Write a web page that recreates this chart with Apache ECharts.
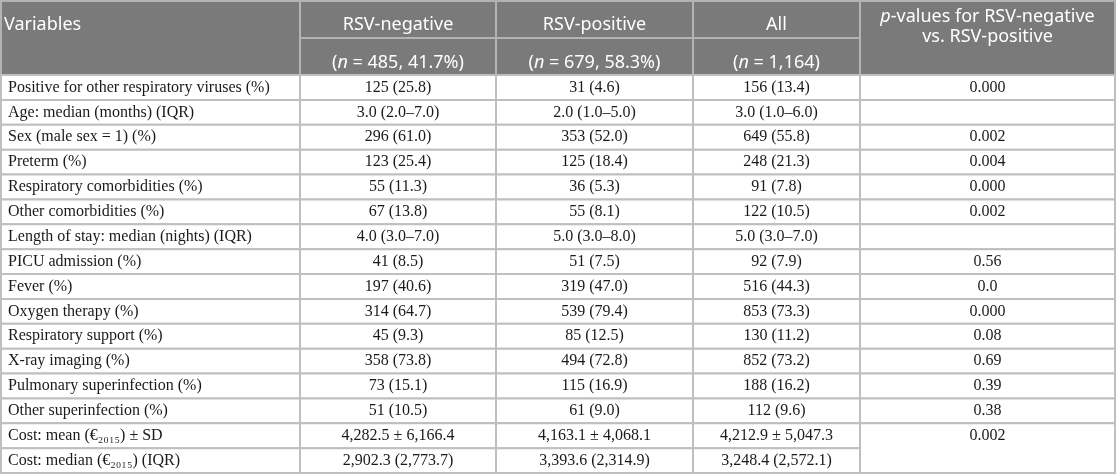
<!DOCTYPE html>
<html>
<head>
<meta charset="utf-8">
<style>
  html, body { margin: 0; padding: 0; background: #fff; }
  #myChart { width: 1116px; height: 474px; }
</style>
<script src="https://cdn.jsdelivr.net/npm/echarts@6/dist/echarts.min.js"></script>
</head>
<body>
<div id="myChart"></div>
<script>
// ---- table content ----
const headers = [
  "Variables",
  "RSV-negative",
  "RSV-positive",
  "All",
  "{i|p}-values for RSV-negative\nvs. RSV-positive",
];
const groupSizes = ["({i|n} = 485, 41.7%)", "({i|n} = 679, 58.3%)", "({i|n} = 1,164)"];

const variables = [
  "Positive for other respiratory viruses (%)",
  "Age: median (months) (IQR)",
  "Sex (male sex = 1) (%)",
  "Preterm (%)",
  "Respiratory comorbidities (%)",
  "Other comorbidities (%)",
  "Length of stay: median (nights) (IQR)",
  "PICU admission (%)",
  "Fever (%)",
  "Oxygen therapy (%)",
  "Respiratory support (%)",
  "X-ray imaging (%)",
  "Pulmonary superinfection (%)",
  "Other superinfection (%)",
  "Cost: mean (€₂₀₁₅) ± SD",
  "Cost: median (€₂₀₁₅) (IQR)",
];
const rsvNegative = [
  "125 (25.8)", "3.0 (2.0–7.0)", "296 (61.0)", "123 (25.4)", "55 (11.3)",
  "67 (13.8)", "4.0 (3.0–7.0)", "41 (8.5)", "197 (40.6)", "314 (64.7)",
  "45 (9.3)", "358 (73.8)", "73 (15.1)", "51 (10.5)",
  "4,282.5 ± 6,166.4", "2,902.3 (2,773.7)",
];
const rsvPositive = [
  "31 (4.6)", "2.0 (1.0–5.0)", "353 (52.0)", "125 (18.4)", "36 (5.3)",
  "55 (8.1)", "5.0 (3.0–8.0)", "51 (7.5)", "319 (47.0)", "539 (79.4)",
  "85 (12.5)", "494 (72.8)", "115 (16.9)", "61 (9.0)",
  "4,163.1 ± 4,068.1", "3,393.6 (2,314.9)",
];
const allPatients = [
  "156 (13.4)", "3.0 (1.0–6.0)", "649 (55.8)", "248 (21.3)", "91 (7.8)",
  "122 (10.5)", "5.0 (3.0–7.0)", "92 (7.9)", "516 (44.3)", "853 (73.3)",
  "130 (11.2)", "852 (73.2)", "188 (16.2)", "112 (9.6)",
  "4,212.9 ± 5,047.3", "3,248.4 (2,572.1)",
];
// null = merged into the cell above (the two cost rows share one p-value)
const pValues = [
  "0.000", "", "0.002", "0.004", "0.000", "0.002", "", "0.56", "0.0",
  "0.000", "0.08", "0.69", "0.39", "0.38", "0.002", null,
];

// ---- layout (page pixels) ----
const colEdges = [1, 300, 496, 693, 860, 1115];
const headerEdges = [1, 38, 75];
const ROW_H = 24.875;

const HEAD_BG = "#7a7a7a";
const HEAD_LINE = "#b3b3b3";
const BODY_LINE = "#bfbfbf";
const HEAD_FONT = "18px 'Noto Sans'";
const HEAD_FONT_I = "italic 18px 'Noto Sans'";
const BODY_FONT = "16px 'Liberation Serif'";

const rowTop = (i) => headerEdges[2] + i * ROW_H;

// build the list of cells: [x0, x1, y0, y1] + text info
const cells = [];
const addCell = (c0, c1, y0, y1, text, opt) => {
  cells.push(Object.assign({ box: [colEdges[c0], colEdges[c1], y0, y1], text: text }, opt));
};

addCell(0, 1, headerEdges[0], headerEdges[2], headers[0], { head: true, align: "left", ty: 24.5 });
for (let c = 1; c <= 3; c++) {
  addCell(c, c + 1, headerEdges[0], headerEdges[1], headers[c], { head: true, align: "center", ty: 24.5 });
  addCell(c, c + 1, headerEdges[1], headerEdges[2], groupSizes[c - 1], { head: true, align: "center", ty: 63 });
}
addCell(4, 5, headerEdges[0], headerEdges[2], headers[4], { head: true, align: "center", ty: 27 });

const columns = [variables, rsvNegative, rsvPositive, allPatients];
variables.forEach((v, i) => {
  const y0 = rowTop(i);
  const y1 = rowTop(i + 1);
  columns.forEach((col, c) => {
    addCell(c, c + 1, y0, y1, col[i], { align: c === 0 ? "left" : "center" });
  });
  if (pValues[i] === null) return;
  // merged cell if next row has no own p-value
  const span = pValues[i + 1] === null ? 2 : 1;
  addCell(4, 5, y0, rowTop(i + span), pValues[i], { align: "center", ty: (y0 + y1) / 2 });
});

function renderCell(params, api) {
  const cell = cells[params.dataIndex];
  const p0 = api.coord([api.value(0), api.value(2)]);
  const p1 = api.coord([api.value(1), api.value(3)]);
  const head = !!cell.head;
  const tx = cell.align === "left" ? p0[0] + (head ? 3 : 7) : (p0[0] + p1[0]) / 2;
  const ty = cell.ty != null ? api.coord([0, cell.ty])[1] : (p0[1] + p1[1]) / 2;
  return {
    type: "group",
    children: [
      {
        type: "rect",
        shape: { x: p0[0], y: p0[1], width: p1[0] - p0[0], height: p1[1] - p0[1] },
        style: { fill: head ? HEAD_BG : "#fff", stroke: head ? HEAD_LINE : BODY_LINE, lineWidth: 2 },
      },
      {
        type: "text",
        style: {
          text: cell.text,
          x: tx,
          y: ty,
          align: cell.align,
          verticalAlign: "middle",
          fill: head ? "#fff" : "#1a1a1a",
          font: head ? HEAD_FONT : BODY_FONT,
          lineHeight: 20,
          rich: {
            i: { font: HEAD_FONT_I, fill: "#fff", lineHeight: 20 },
          },
        },
      },
    ],
  };
}

const chart = echarts.init(document.getElementById("myChart"));
chart.setOption({
  animation: false,
  grid: { left: 0, right: 0, top: 0, bottom: 0 },
  xAxis: { type: "value", min: 0, max: 1116, show: false },
  yAxis: { type: "value", min: 0, max: 474, inverse: true, show: false },
  series: [
    {
      type: "custom",
      renderItem: renderCell,
      clip: false,
      encode: { x: [0, 1], y: [2, 3] },
      // header cells first so body borders draw over them
      data: cells.map((c) => c.box),
    },
  ],
});
</script>
</body>
</html>
